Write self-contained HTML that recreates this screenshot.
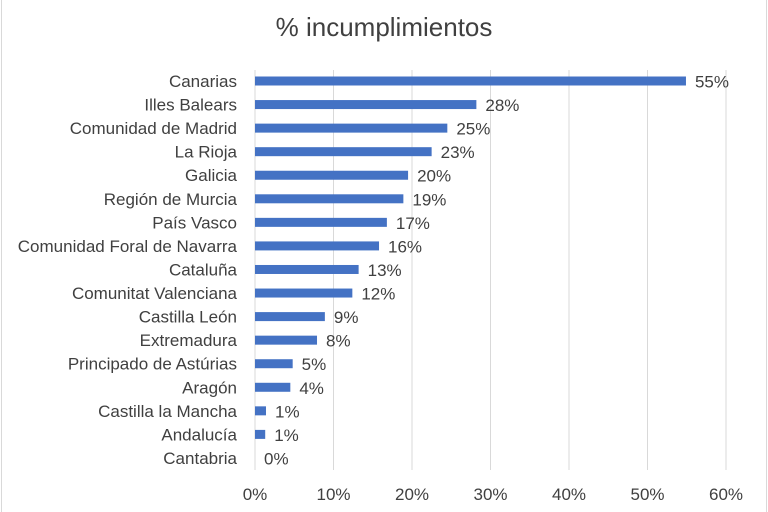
<!DOCTYPE html>
<html><head><meta charset="utf-8"><style>
html,body{margin:0;padding:0;background:#fff;}
svg{display:block;font-family:"Liberation Sans",sans-serif;}
</style></head><body>
<svg id="chart" width="768" height="512" viewBox="0 0 768 512">
<rect x="1.5" y="-1" width="765" height="514" fill="#fff" stroke="#d9d9d9"/>
<text x="384" y="36" text-anchor="middle" font-size="26" fill="#404040">% incumplimientos</text>
<g id="grid"></g><g id="bars"></g><g id="labels"></g><g id="ticks"></g>
</svg>
<script>
const categories=["Canarias","Illes Balears","Comunidad de Madrid","La Rioja","Galicia","Región de Murcia","País Vasco","Comunidad Foral de Navarra","Cataluña","Comunitat Valenciana","Castilla León","Extremadura","Principado de Astúrias","Aragón","Castilla la Mancha","Andalucía","Cantabria"];
const values=[54.9,28.2,24.5,22.5,19.5,18.9,16.8,15.8,13.2,12.4,8.9,7.9,4.8,4.5,1.4,1.3,0];
const valueLabels=["55%","28%","25%","23%","20%","19%","17%","16%","13%","12%","9%","8%","5%","4%","1%","1%","0%"];
const tickValues=[0,10,20,30,40,50,60];
const tickLabels=["0%","10%","20%","30%","40%","50%","60%"];
const NS="http://www.w3.org/2000/svg";
const x0=255,x1=726,vmax=60,yTop=81,rowH=23.56;
const xs=v=>x0+(v/vmax)*(x1-x0);
const ys=i=>yTop+i*rowH;
function mk(t,a,p){const e=document.createElementNS(NS,t);for(const k in a)e.setAttribute(k,a[k]);p.appendChild(e);return e;}
const g=document.getElementById('grid'),b=document.getElementById('bars'),l=document.getElementById('labels'),tk=document.getElementById('ticks');
tickValues.forEach((v,i)=>{
 const ln=mk('line',{x1:xs(v),x2:xs(v),y1:70,y2:470,stroke:'#d9d9d9','stroke-width':1},g);
 
 
 const t=mk('text',{x:xs(v),y:500,'text-anchor':'middle','font-size':17,fill:'#404040'},tk);
 t.textContent=tickLabels[i];
 
 
});
categories.forEach((c,i)=>{
 const y=ys(i);
 const r=mk('rect',{x:x0,y:y-4.5,width:xs(values[i])-x0,height:9,fill:'#4472c4'},b);
 
 
 const t=mk('text',{x:237,y:y+6,'text-anchor':'end','font-size':17,fill:'#404040','textLength':0},l);
 t.removeAttribute('textLength');
 t.textContent=c;
 
 
 const v=mk('text',{x:xs(values[i])+9,y:y+6.5,'font-size':17,fill:'#404040'},l);
 v.textContent=valueLabels[i];
 
 
});
</script>
</body></html>
